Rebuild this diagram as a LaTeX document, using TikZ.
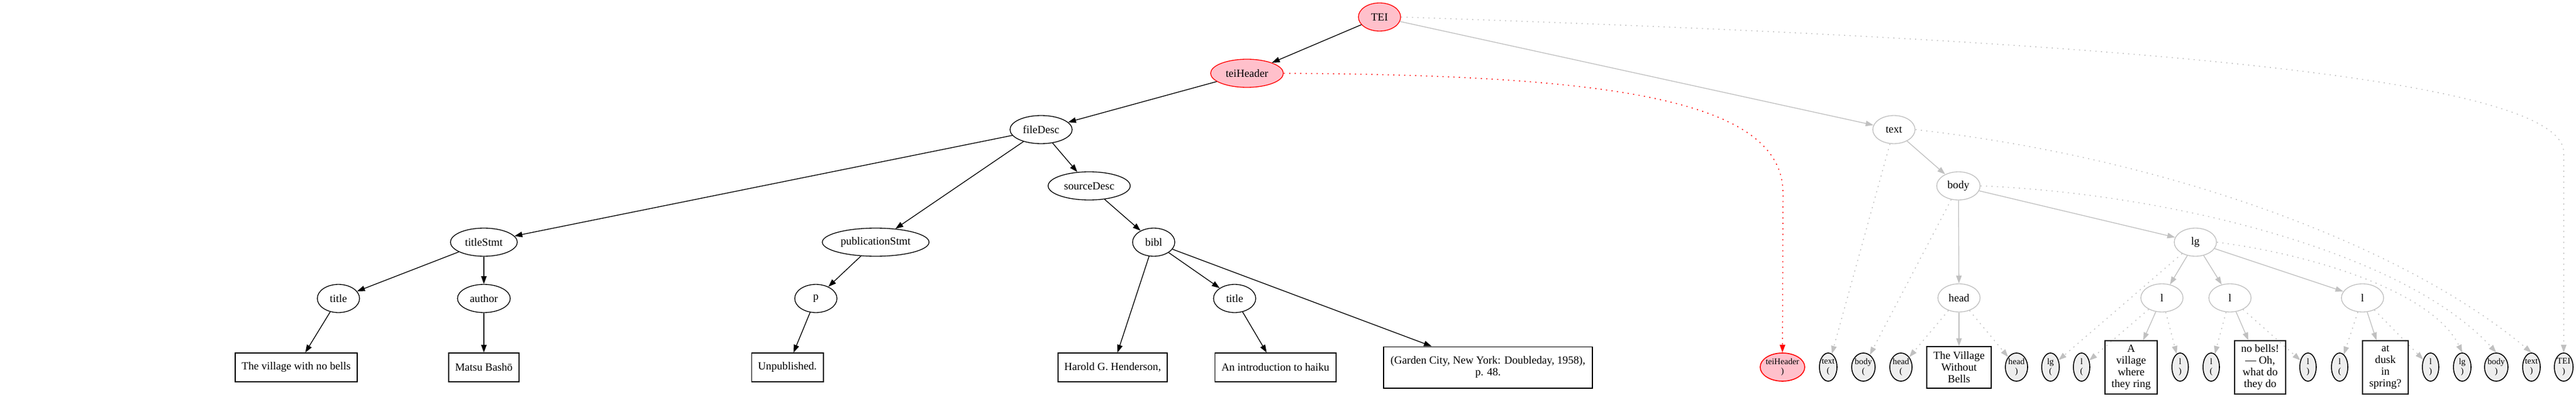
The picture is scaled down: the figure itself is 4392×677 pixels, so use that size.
\documentclass[tikz,border=0pt]{standalone}
\usepackage{fontspec}
\setmainfont{Liberation Serif}
\usetikzlibrary{shapes.geometric,arrows.meta}
\definecolor{gv}{HTML}{C0C0C0}
\definecolor{pk}{HTML}{FFC0CB}
\definecolor{smfill}{HTML}{EEEEEE}
\newcommand\mkz[1]{\makebox[0pt]{#1}}
\tikzset{
  base/.style={font=\fontsize{14pt}{15pt}\selectfont, inner sep=0pt, align=center},
  ell/.style={base, ellipse, draw, line width=1pt, minimum height=36pt, minimum width=#1},
  hdr/.style={ell=#1, draw=red, fill=pk},
  gel/.style={ell=#1, draw=gv},
  sml/.style={base, ellipse, draw=black, fill=smfill, line width=1.2pt, minimum height=36pt, minimum width=#1, font=\fontsize{11pt}{12.5pt}\selectfont},
  smr/.style={sml=#1, draw=red, fill=pk},
  bx/.style 2 args={base, rectangle, draw, line width=1pt, minimum width=#1, minimum height=#2},
  gbx/.style 2 args={bx={#1}{#2}, line width=1.3pt},
  blk/.style={draw=black, line width=1pt, -{Triangle[length=10pt,width=7pt]}},
  gre/.style={draw=gv, line width=1pt, -{Triangle[length=10pt,width=7pt,fill=gv]}},
  dgr/.style={gre, line width=1.1pt, dash pattern=on 1.5pt off 5.5pt},
  rdt/.style={draw=red, line width=1.1pt, dash pattern=on 1.5pt off 5.5pt, -{Triangle[length=10pt,width=7pt,fill=red]}},
}
\begin{document}
\begin{tikzpicture}[x=0.75pt,y=-0.75pt]
\useasboundingbox (0,0) rectangle (4392,677);
% header subtree
\node[hdr=54pt] (TEI) at (2352,29) {\mkz{TEI}};
\node[hdr=93pt] (teiHeader) at (2126,125) {\mkz{teiHeader}};
\node[ell=79.5pt] (fileDesc) at (1775,221) {\mkz{fileDesc}};
\node[ell=105pt] (sourceDesc) at (1857,317) {\mkz{sourceDesc}};
\node[ell=85.5pt] (titleStmt) at (825,413) {\mkz{titleStmt}};
\node[ell=136.5pt] (pubStmt) at (1493,413) {\mkz{publicationStmt}};
\node[ell=54pt] (bibl) at (1967,413) {\mkz{bibl}};
\node[ell=54pt] (titleA) at (577,509) {\mkz{title}};
\node[ell=67.5pt] (author) at (825,509) {\mkz{author}};
\node[ell=54pt] (p) at (1391,509) {\mkz{p}};
\node[ell=54pt] (titleB) at (2105,509) {\mkz{title}};
\node[bx={156pt}{36.75pt}] (bxTitle) at (505,626.5) {The village with no bells};
\node[bx={90pt}{36.75pt}] (bxAuthor) at (825,626.5) {Matsu Bashō};
\node[bx={92pt}{36.75pt}] (bxP) at (1342.5,626.5) {Unpublished.};
\node[bx={139.5pt}{36.75pt}] (bxHarold) at (1897,626.5) {Harold G. Henderson,};
\node[bx={155pt}{36.75pt}] (bxIntro) at (2174.5,626.5) {An introduction to haiku};
\node[bx={267pt}{53pt}] (bxGarden) at (2537,626.5) {(Garden City, New York: Doubleday, 1958),\\p. 48.};
% text subtree
\node[gel=54pt] (text) at (3229,221) {\mkz{text}};
\node[gel=55.5pt] (body) at (3339,317) {\mkz{body}};
\node[gel=54pt] (head) at (3340,508) {\mkz{head}};
\node[gel=54pt] (lg) at (3743,413) {\mkz{lg}};
\node[gel=54pt] (lA) at (3686,508) {\mkz{l}};
\node[gel=54pt] (lB) at (3802,508) {\mkz{l}};
\node[gel=54pt] (lC) at (4028,508) {\mkz{l}};
% bottom row
\node[smr=57pt] (teiHeaderC) at (3039,626) {\mkz{teiHeader}\\\mkz{)}};
\node[sml=22.5pt] (textO) at (3117,626) {\mkz{text}\\\mkz{(}};
\node[sml=30pt] (bodyO) at (3177,626) {\mkz{body}\\\mkz{(}};
\node[sml=28.5pt] (headO) at (3241,626) {\mkz{head}\\\mkz{(}};
\node[gbx={82.5pt}{53pt}] (bxHead) at (3340,626.5) {The Village\\Without\\Bells};
\node[sml=28.5pt] (headC) at (3438,626) {\mkz{head}\\\mkz{)}};
\node[sml=22.5pt] (lgO) at (3496,626) {\mkz{lg}\\\mkz{(}};
\node[sml=21pt] (lAO) at (3549,626) {\mkz{l}\\\mkz{(}};
\node[gbx={67pt}{68pt}] (bxA) at (3633.5,626.5) {A\\village\\where\\they ring};
\node[sml=21pt] (lAC) at (3717,626) {\mkz{l}\\\mkz{)}};
\node[sml=21pt] (lBO) at (3770,626) {\mkz{l}\\\mkz{(}};
\node[gbx={65pt}{68pt}] (bxB) at (3853.5,626.5) {no bells!\\— Oh,\\what do\\they do};
\node[sml=21pt] (lBC) at (3935,626) {\mkz{l}\\\mkz{)}};
\node[sml=21pt] (lCO) at (3989,626) {\mkz{l}\\\mkz{(}};
\node[gbx={58.5pt}{68pt}] (bxC) at (4067,626.5) {at\\dusk\\in\\spring?};
\node[sml=21pt] (lCC) at (4144,626) {\mkz{l}\\\mkz{)}};
\node[sml=22.5pt] (lgC) at (4198,626) {\mkz{lg}\\\mkz{)}};
\node[sml=30pt] (bodyC) at (4256,626) {\mkz{body}\\\mkz{)}};
\node[sml=22.5pt] (textC) at (4316,626) {\mkz{text}\\\mkz{)}};
\node[sml=24pt] (TEIC) at (4371,626) {\mkz{TEI}\\\mkz{)}};
% black edges
\draw[blk] (TEI) -- (teiHeader);
\draw[blk] (teiHeader) -- (fileDesc);
\draw[blk] (fileDesc) -- (titleStmt);
\draw[blk] (fileDesc) -- (pubStmt);
\draw[blk] (fileDesc) -- (sourceDesc);
\draw[blk] (titleStmt) -- (titleA);
\draw[blk] (titleStmt) -- (author);
\draw[blk] (titleA) -- (bxTitle);
\draw[blk] (author) -- (bxAuthor);
\draw[blk] (pubStmt) -- (p);
\draw[blk] (p) -- (bxP);
\draw[blk] (sourceDesc) -- (bibl);
\draw[blk] (bibl) -- (bxHarold);
\draw[blk] (bibl) -- (titleB);
\draw[blk] (bibl) -- (bxGarden);
\draw[blk] (titleB) -- (bxIntro);
% gray solid edges
\draw[gre] (TEI) -- (text);
\draw[gre] (text) -- (body);
\draw[gre] (body) -- (head);
\draw[gre] (body) -- (lg);
\draw[gre] (head) -- (bxHead);
\draw[gre] (lg) -- (lA);
\draw[gre] (lg) -- (lB);
\draw[gre] (lg) -- (lC);
\draw[gre] (lA) -- (bxA);
\draw[gre] (lB) -- (bxB);
\draw[gre] (lC) -- (bxC);
% dotted edges
\draw[rdt] (teiHeader.east) .. controls (2750,128) and (3040,170) .. (3040,330) -- (teiHeaderC.north);
\draw[dgr] (TEI.east) .. controls (3300,60) and (4371,110) .. (4371,260) -- (TEIC.north);
\draw[dgr] (text.east) .. controls (3700,270) and (4100,420) .. (textC.north);
\draw[dgr] (body.east) .. controls (3700,330) and (4100,430) .. (bodyC.north);
\draw[dgr] (lg.east) .. controls (3950,435) and (4150,500) .. (lgC.north);
\draw[dgr] (text) -- (textO);
\draw[dgr] (body) -- (bodyO);
\draw[dgr] (head) -- (headO);
\draw[dgr] (head) -- (headC);
\draw[dgr] (lg) -- (lgO);
\draw[dgr] (lA) -- (lAO);
\draw[dgr] (lA) -- (lAC);
\draw[dgr] (lB) -- (lBO);
\draw[dgr] (lB) -- (lBC);
\draw[dgr] (lC) -- (lCO);
\draw[dgr] (lC) -- (lCC);
\end{tikzpicture}
\end{document}
